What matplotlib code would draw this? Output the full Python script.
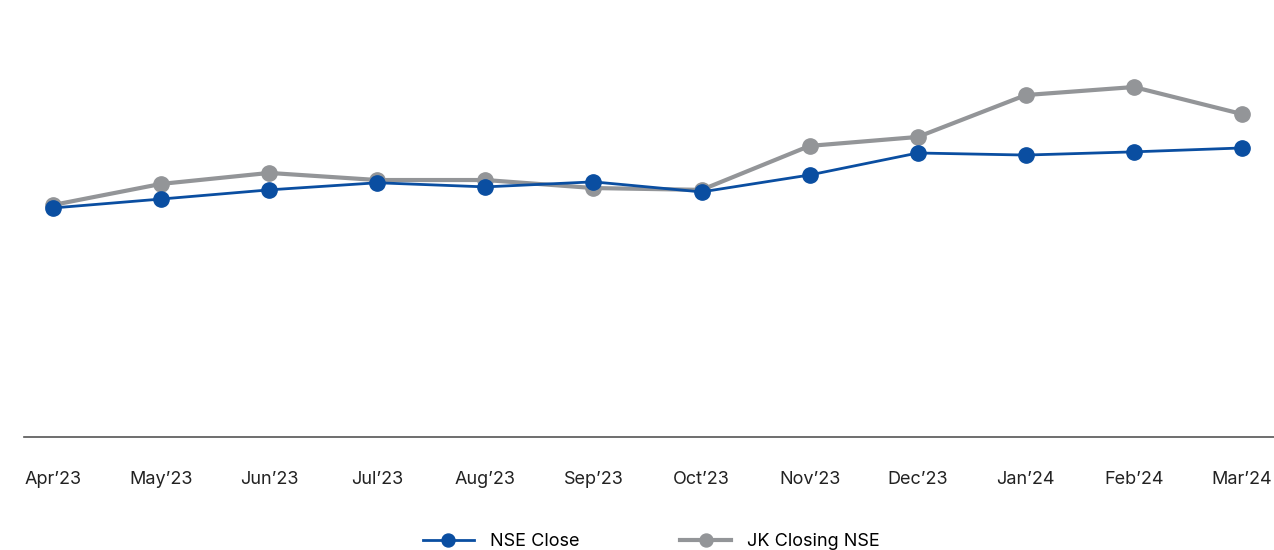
import matplotlib.pyplot as plt

plt.rcParams["font.family"] = ["Inter", "DejaVu Sans"]

months = ["Apr’23", "May’23", "Jun’23", "Jul’23", "Aug’23", "Sep’23",
          "Oct’23", "Nov’23", "Dec’23", "Jan’24", "Feb’24", "Mar’24"]
# indexed to NSE Apr'23 = 100
nse_close = [100.0, 103.9, 107.9, 111.0, 109.2, 111.4,
             107.0, 114.4, 124.0, 123.1, 124.5, 126.2]
jk_close = [101.3, 110.5, 115.3, 112.2, 112.2, 108.7,
            107.9, 127.1, 131.0, 149.3, 152.8, 141.0]

blue = "#0a4ea1"
grey = "#939598"

fig = plt.figure(figsize=(12.74, 5.5), dpi=100)
ax = fig.add_axes([24 / 1274, 113 / 550, 1250 / 1274, 437 / 550])

x = range(len(months))
ax.plot(x, jk_close, color=grey, lw=3, marker="o", markersize=11,
        label="JK Closing NSE", zorder=2)
ax.plot(x, nse_close, color=blue, lw=2, marker="o", markersize=11,
        label="NSE Close", zorder=3)

ax.set_xlim(-0.268, 11.296)
ax.set_ylim(0, 190.8)
ax.set_xticks(list(x))
ax.set_xticklabels(months, fontsize=13, color="#222222")
ax.tick_params(axis="x", length=0, pad=24.5)
ax.set_yticks([])
for s in ["top", "right", "left"]:
    ax.spines[s].set_visible(False)
ax.spines["bottom"].set_color("#555555")
ax.spines["bottom"].set_linewidth(1.2)

h, l = ax.get_legend_handles_labels()
fig.legend(h[::-1], l[::-1], loc="center", bbox_to_anchor=(651.5 / 1274, 8 / 550),
           ncol=2, frameon=False, fontsize=13, handlelength=2.8,
           handletextpad=0.9, columnspacing=5.6, markerscale=0.85)

fig.savefig("out.png", dpi=100)
